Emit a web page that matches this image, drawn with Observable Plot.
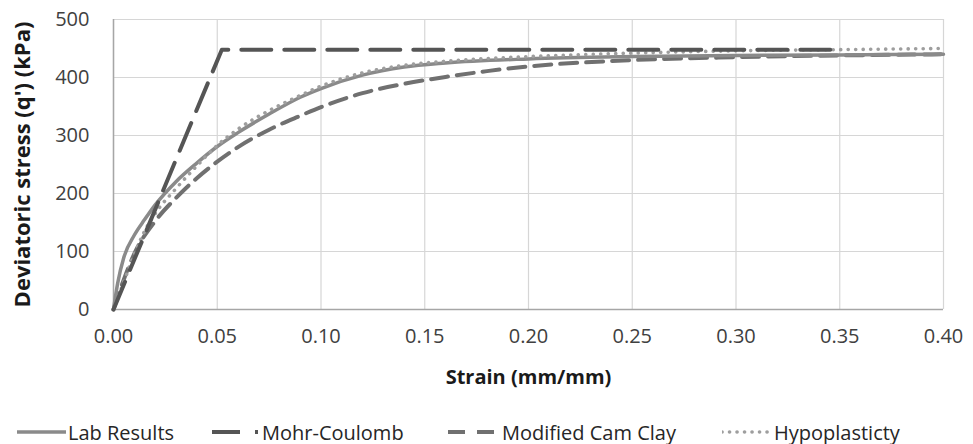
<!DOCTYPE html>
<html>
<head>
<meta charset="utf-8">
<script src="https://cdn.jsdelivr.net/npm/d3@7"></script>
<script src="https://cdn.jsdelivr.net/npm/@observablehq/plot@0.6"></script>
<style>
  body { margin: 0; background: #fff; font-family: "Open Sans", Lato, sans-serif; }
  #wrap { position: relative; width: 973px; }
  #legend { position: relative; width: 973px; height: 34px; font-size: 20px; color: #262626; }
  .item { position: absolute; top: 7px; height: 30px; display: flex; align-items: center; }
  .item svg { display: block; }
</style>
</head>
<body>
<div id="wrap">
  <div id="chart"></div>
  <div id="legend"></div>
</div>
<script>
// Tick values
const xTicks = [0, 0.05, 0.10, 0.15, 0.20, 0.25, 0.30, 0.35, 0.40];
const yTicks = [0, 100, 200, 300, 400, 500];

// Series names
const seriesNames = ["Lab Results", "Mohr-Coulomb", "Modified Cam Clay", "Hypoplasticty"];

// Lab Results
const labStrain = [0, 0.002, 0.005, 0.01, 0.015, 0.02, 0.03, 0.04, 0.05, 0.06, 0.075, 0.09, 0.10, 0.12, 0.14, 0.16, 0.20, 0.25, 0.30, 0.35, 0.40];
const labQ      = [0, 45,    90,    128,  155,   180,  220,  252,  281,  305,  337,   366,  381,  404,  418,  425,  432,  436,  438,  439,  440];

// Mohr-Coulomb
const mcStrain = [0, 0.0522, 0.347];
const mcQ      = [0, 448,    448];

// Modified Cam Clay
const mccStrain = [0, 0.005, 0.01, 0.02, 0.03, 0.04, 0.05, 0.06, 0.075, 0.09, 0.10, 0.12, 0.14, 0.16, 0.18, 0.20, 0.25, 0.30, 0.35, 0.40];
const mccQ      = [0, 52,    96,   152,  192,  226,  255,  280,  310,   334,  349,  373,  389,  401,  411,  419,  430,  435,  438,  440];

// Hypoplasticity
const hypoStrain = [0, 0.005, 0.01, 0.015, 0.02, 0.03, 0.04, 0.05, 0.06, 0.075, 0.09, 0.10, 0.12, 0.14, 0.16, 0.20, 0.25, 0.30, 0.35, 0.40];
const hypoQ      = [0, 48,    95,   135,   165,  208,  247,  283,  311,  343,   369,  385,  408,  421,  428,  436,  442,  446,  448,  450];

const toRows = (xs, ys) => xs.map((x, i) => ({x, y: ys[i]}));
const lab = toRows(labStrain, labQ);
const mc = toRows(mcStrain, mcQ);
const mcc = toRows(mccStrain, mccQ);
const hypo = toRows(hypoStrain, hypoQ);

const styles = {
  lab:  {stroke: "#8a8a8a", strokeWidth: 3.5},
  mc:   {stroke: "#555555", strokeWidth: 4, strokeDasharray: "30,13"},
  mcc:  {stroke: "#707070", strokeWidth: 4, strokeDasharray: "17,9"},
  hypo: {stroke: "#9e9e9e", strokeWidth: 3.6, strokeDasharray: "0.1,7.4", strokeLinecap: "round"}
};

const font = "'Open Sans', Lato, sans-serif";

const chart = Plot.plot({
  width: 973,
  height: 410,
  marginLeft: 113,
  marginRight: 30,
  marginTop: 19,
  marginBottom: 101,
  style: {fontFamily: font, fontSize: "20px", color: "#404040", background: "#fff", overflow: "visible"},
  x: {domain: [0, 0.4]},
  y: {domain: [0, 500]},
  marks: [
    Plot.gridX(xTicks, {stroke: "#d6d6d6", strokeOpacity: 1, strokeWidth: 1.2}),
    Plot.gridY(yTicks, {stroke: "#d6d6d6", strokeOpacity: 1, strokeWidth: 1.2}),
    Plot.ruleX([0], {stroke: "#a6a6a6", strokeWidth: 1.5}),
    Plot.ruleY([0], {stroke: "#a6a6a6", strokeWidth: 1.5}),
    Plot.axisX(xTicks, {tickSize: 0, tickPadding: 19, tickFormat: d3.format(".2f"), label: null, fill: "#404040", fontSize: 20}),
    Plot.axisY(yTicks, {tickSize: 0, tickPadding: 24, label: null, fill: "#404040", fontSize: 20}),
    Plot.line(mcc, {x: "x", y: "y", curve: "monotone-x", ...styles.mcc}),
    Plot.line(lab, {x: "x", y: "y", curve: "monotone-x", ...styles.lab}),
    Plot.line(hypo, {x: "x", y: "y", curve: "monotone-x", ...styles.hypo}),
    Plot.line(mc, {x: "x", y: "y", ...styles.mc}),
    Plot.text(["Strain (mm/mm)"], {frameAnchor: "bottom", dy: 74, fontWeight: "bold", fill: "#1a1a1a", fontSize: 20}),
    Plot.text(["Deviatoric stress (q') (kPa)"], {frameAnchor: "left", dx: -91, rotate: -90, textAnchor: "middle", fontWeight: "bold", fill: "#1a1a1a", fontSize: 22})
  ]
});
document.getElementById("chart").appendChild(chart);

// Legend
const legendItems = [
  {name: seriesNames[0], style: styles.lab,  left: 17,  w: 51},
  {name: seriesNames[1], style: {...styles.mc, strokeDasharray: "28,15,3,100"}, left: 212, w: 50},
  {name: seriesNames[2], style: {...styles.mcc, strokeDasharray: "17,12"}, left: 448, w: 54},
  {name: seriesNames[3], style: styles.hypo, left: 722, w: 52}
];
const legend = document.getElementById("legend");
for (const it of legendItems) {
  const div = document.createElement("div");
  div.className = "item";
  div.style.left = it.left + "px";
  const svg = d3.create("svg").attr("width", it.w).attr("height", 12);
  svg.append("line")
    .attr("x1", 0).attr("x2", it.w - 2).attr("y1", 6).attr("y2", 6)
    .attr("stroke", it.style.stroke)
    .attr("stroke-width", it.style.strokeWidth)
    .attr("stroke-dasharray", it.style.strokeDasharray || null)
    .attr("stroke-linecap", it.style.strokeLinecap || null);
  div.appendChild(svg.node());
  const span = document.createElement("span");
  span.textContent = it.name;
  div.appendChild(span);
  legend.appendChild(div);
}
</script>
</body>
</html>
